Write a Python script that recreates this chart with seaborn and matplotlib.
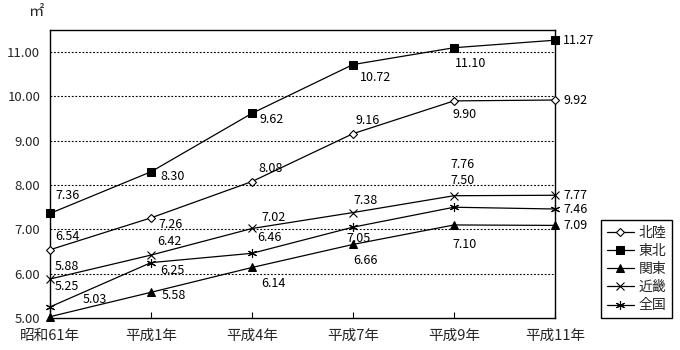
import matplotlib
matplotlib.use("Agg")
import matplotlib.pyplot as plt
import seaborn as sns
import pandas as pd

years = ["昭和61年", "平成1年", "平成4年", "平成7年", "平成9年", "平成11年"]
regions = ["北陸", "東北", "関東", "近畿", "全国"]
hokuriku = [6.54, 7.26, 8.08, 9.16, 9.90, 9.92]
tohoku = [7.36, 8.30, 9.62, 10.72, 11.10, 11.27]
kanto = [5.03, 5.58, 6.14, 6.66, 7.10, 7.09]
kinki = [5.88, 6.42, 7.02, 7.38, 7.76, 7.77]
zenkoku = [5.25, 6.25, 6.46, 7.05, 7.50, 7.46]
yticks = [5, 6, 7, 8, 9, 10, 11]
unit_label = "㎡"

series = dict(zip(regions, [hokuriku, tohoku, kanto, kinki, zenkoku]))
rows = []
for r, vals in series.items():
    for i, v in enumerate(vals):
        rows.append({"year_idx": i, "value": v, "region": r})
df = pd.DataFrame(rows)

sns.set_theme(style="white")
plt.rcParams["font.family"] = ["Noto Sans CJK JP", "DejaVu Sans"]
plt.rcParams["font.size"] = 9

fig = plt.figure(figsize=(6.8, 3.5), dpi=100)
ax = fig.add_axes([50 / 680, 32 / 350, 505 / 680, 288 / 350])

for y in yticks[1:]:
    ax.axhline(y, color="black", linewidth=0.8, linestyle=(0, (1.6, 1.6)), zorder=1)

styles = {
    "北陸": dict(marker="D", markersize=4.5, markerfacecolor="white", markeredgecolor="black", markeredgewidth=0.8),
    "東北": dict(marker="s", markersize=5.5, markerfacecolor="black", markeredgecolor="black"),
    "関東": dict(marker="^", markersize=6, markerfacecolor="black", markeredgecolor="black"),
    "近畿": dict(marker="x", markersize=5.5, markeredgecolor="black", markeredgewidth=0.8),
    "全国": dict(marker=(6, 2, 0), markersize=6.5, markeredgecolor="black", markeredgewidth=0.8),
}

handles = []
for r in regions:
    sub = df[df["region"] == r]
    sns.lineplot(data=sub, x="year_idx", y="value", color="black", linewidth=0.9,
                 ax=ax, legend=False, zorder=3, clip_on=False, label=r, **styles[r])
    handles.append(ax.get_lines()[-1])

# label offsets in pixels (dx, dy up), horizontal alignment
offsets = {
    "北陸": [(5, 13, "left"), (7, -7, "left"), (6, 13, "left"), (2, 13, "left"), (11, -14, "center"), (8, 0, "left")],
    "東北": [(5, 18, "left"), (9, -5, "left"), (8, -6, "left"), (7, -13, "left"), (1, -16, "left"), (8, 0, "left")],
    "関東": [(33, 17, "left"), (11, -3, "left"), (9, -16, "left"), (0, -16, "left"), (-2, -20, "left"), (8, 0, "left")],
    "近畿": [(5, 13, "left"), (6, 14, "left"), (9, 11, "left"), (0, 12, "left"), (-4, 31, "left"), (8, 0, "left")],
    "全国": [(5, 20, "left"), (9, -8, "left"), (5, 16, "left"), (-7, -11, "left"), (-4, 27, "left"), (8, 0, "left")],
}
for r in regions:
    vals = series[r]
    for i, v in enumerate(vals):
        dx, dy, ha = offsets[r][i]
        ax.annotate(f"{v:.2f}", (i, v), xytext=(dx, dy), textcoords="offset pixels",
                    ha=ha, va="center", fontsize=9, color="black", zorder=5,
                    annotation_clip=False)

ax.set_xlim(0, len(years) - 1)
ax.set_ylim(5, 11.5)
ax.set_xticks(range(len(years)))
ax.set_xticklabels(years, fontsize=10.5)
ax.set_yticks(yticks)
ax.set_yticklabels([f"{y:.2f}" for y in yticks], fontsize=9.5)
ax.set_xlabel("")
ax.set_ylabel("")
ax.tick_params(axis="x", direction="in", length=4, width=0.8, color="black", pad=8, bottom=True)
ax.tick_params(axis="y", length=0, pad=7)
for s in ax.spines.values():
    s.set_visible(True)
    s.set_color("black")
    s.set_linewidth(1.0)

fig.text(36 / 680, 1 - 12 / 350, unit_label, ha="center", va="center", fontsize=11)

leg = ax.legend(handles, regions, loc="lower left", bbox_to_anchor=(601 / 680, 32 / 350),
                bbox_transform=fig.transFigure, frameon=True, fancybox=False,
                edgecolor="black", framealpha=1, fontsize=10, handlelength=2.0,
                handletextpad=0.3, borderpad=0.4, labelspacing=0.3, borderaxespad=0)
leg.get_frame().set_linewidth(1.0)

fig.savefig("out.png", dpi=100)
